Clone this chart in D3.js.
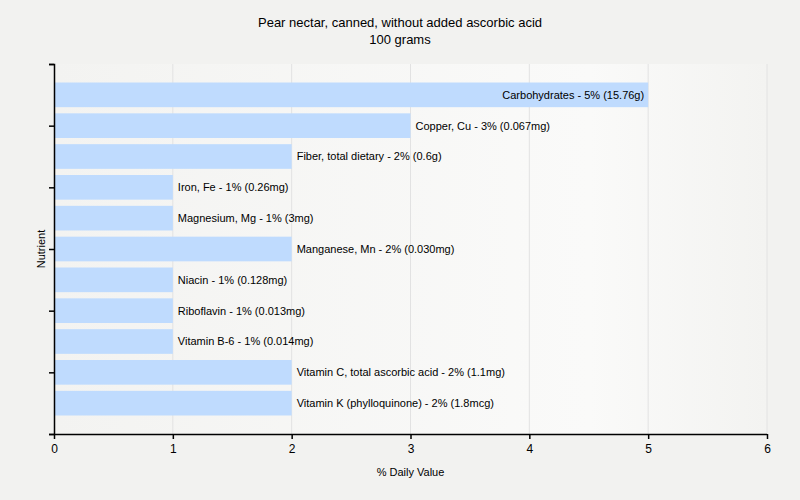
<!DOCTYPE html>
<html>
<head>
<meta charset="utf-8">
<script src="https://cdnjs.cloudflare.com/ajax/libs/d3/7.8.5/d3.min.js"></script>
<style>
  body { margin: 0; background: #f2f2f0; }
  text { font-family: Tahoma, "Liberation Sans", Arial, sans-serif; fill: #000; }
</style>
</head>
<body>
<div id="chart"></div>
<script>
// chart data
var nutrients = ["Carbohydrates", "Copper, Cu", "Fiber, total dietary", "Iron, Fe", "Magnesium, Mg",
  "Manganese, Mn", "Niacin", "Riboflavin", "Vitamin B-6", "Vitamin C, total ascorbic acid",
  "Vitamin K (phylloquinone)"];
var dailyValues = [5, 3, 2, 1, 1, 2, 1, 1, 1, 2, 2];
var amounts = ["15.76g", "0.067mg", "0.6g", "0.26mg", "3mg", "0.030mg", "0.128mg", "0.013mg",
  "0.014mg", "1.1mg", "1.8mcg"];
var xTicks = [0, 1, 2, 3, 4, 5, 6];

var svgWidth = 800;
var svgHeight = 500;
var margin = { top: 64, right: 33, bottom: 66, left: 54 };
var width = svgWidth - margin.left - margin.right;
var height = svgHeight - margin.top - margin.bottom;

var svg = d3.select("#chart")
  .append("svg")
  .attr("width", svgWidth)
  .attr("height", svgHeight);

svg.append("rect")
  .attr("width", svgWidth)
  .attr("height", svgHeight)
  .attr("fill", "#f2f2f0");

// plot background gradient
var grad = svg.append("defs").append("linearGradient")
  .attr("id", "bg")
  .attr("x1", "0%").attr("x2", "100%");
grad.append("stop").attr("offset", "0%").attr("stop-color", "#f3f3f1");
grad.append("stop").attr("offset", "75%").attr("stop-color", "#fafaf9");
grad.append("stop").attr("offset", "100%").attr("stop-color", "#f3f3f1");

var chartGroup = svg.append("g")
  .attr("transform", `translate(${margin.left}, ${margin.top})`);

chartGroup.append("rect")
  .attr("width", width)
  .attr("height", height)
  .attr("fill", "url(#bg)");

// scales
var xScale = d3.scaleLinear()
  .domain([0, 6])
  .range([0, width]);

var yScale = d3.scaleLinear()
  .domain([0, nutrients.length + 1])
  .range([0, height]);

var bandH = (yScale(1) - yScale(0)) * 0.8;

// gridlines
chartGroup.selectAll(".grid")
  .data(xTicks.slice(1))
  .enter()
  .append("line")
  .attr("x1", d => xScale(d))
  .attr("x2", d => xScale(d))
  .attr("y1", 0)
  .attr("y2", height)
  .attr("stroke", "#e2e2e2")
  .attr("stroke-width", 1);

// bars
chartGroup.selectAll(".bar")
  .data(dailyValues)
  .enter()
  .append("rect")
  .attr("x", 0)
  .attr("y", (d, i) => yScale(i + 1) - bandH / 2)
  .attr("width", d => xScale(d))
  .attr("height", bandH)
  .attr("fill", "#bfdbfe");

// bar labels
chartGroup.selectAll(".lbl")
  .data(dailyValues)
  .enter()
  .append("text")
  .attr("x", d => d >= 4 ? xScale(d) - 4 : xScale(d) + 5)
  .attr("y", (d, i) => yScale(i + 1))
  .attr("dy", "0.35em")
  .attr("text-anchor", d => d >= 4 ? "end" : "start")
  .attr("font-size", 11)
  .text((d, i) => `${nutrients[i]} - ${d}% (${amounts[i]})`);

// axes
var xAxis = d3.axisBottom(xScale).tickValues(xTicks).tickSize(5).tickFormat(d3.format("d"));
var yAxis = d3.axisLeft(yScale).tickValues([0, 2, 4, 6, 8, 10, 12]).tickSize(5).tickFormat("");

var gx = chartGroup.append("g")
  .attr("transform", `translate(0, ${height})`)
  .call(xAxis);
gx.select(".domain").attr("d", `M-5,0.5H${width}`);
gx.selectAll("text").attr("font-size", 12).attr("dy", "0.9em");

var gy = chartGroup.append("g").call(yAxis);
gy.select(".domain").attr("d", `M-5,0.5H0.5V${height}`);

svg.selectAll(".domain, .tick line").attr("stroke", "#000").attr("stroke-width", 1.5);

// titles
svg.append("text")
  .attr("x", svgWidth / 2)
  .attr("y", 27)
  .attr("text-anchor", "middle")
  .attr("font-size", 13)
  .text("Pear nectar, canned, without added ascorbic acid");

svg.append("text")
  .attr("x", svgWidth / 2)
  .attr("y", 44)
  .attr("text-anchor", "middle")
  .attr("font-size", 13)
  .text("100 grams");

// axis labels
svg.append("text")
  .attr("x", margin.left + width / 2)
  .attr("y", 476)
  .attr("text-anchor", "middle")
  .attr("font-size", 11)
  .text("% Daily Value");

svg.append("text")
  .attr("transform", `translate(45, ${margin.top + height / 2}) rotate(-90)`)
  .attr("text-anchor", "middle")
  .attr("font-size", 11)
  .text("Nutrient");
</script>
</body>
</html>
